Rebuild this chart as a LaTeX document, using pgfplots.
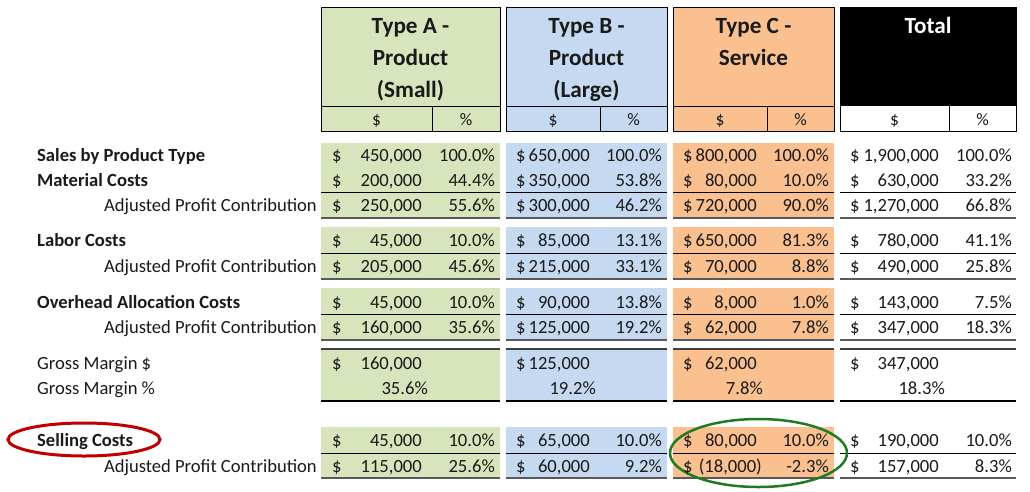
\documentclass[border=0pt]{standalone}
\usepackage{pgfplots}
\pgfplotsset{compat=1.18}
\usepackage{fontspec}
\setmainfont{Carlito}
\definecolor{cA}{HTML}{D8E4BC}
\definecolor{cB}{HTML}{C5D9F1}
\definecolor{cC}{HTML}{FAC090}
\definecolor{ered}{HTML}{C00000}
\definecolor{egreen}{HTML}{1E7B22}
\definecolor{tx}{HTML}{1A1A1A}
\newcommand\bodyf{\fontsize{18.6}{22}\selectfont}
\newcommand\headf{\fontsize{23.2}{28}\selectfont\bfseries}
\newcommand\txt[3]{\addplot[draw=none, mark=none, nodes near coords, point meta=explicit symbolic,
  every node near coord/.append style={anchor=#1, inner sep=0pt, font=#2, text=tx}]
  table[col sep=semicolon, row sep=\\, meta=t]{#3};}
\newcommand\blk[5]{\addplot[fill=#1, draw=none] coordinates {(#2,#4) (#3,#4) (#3,#5) (#2,#5)} -- cycle;}
\newcommand\hl[2]{%
  \addplot[#2] coordinates {(321,#1) (500,#1)};
  \addplot[#2] coordinates {(506,#1) (667,#1)};
  \addplot[#2] coordinates {(673,#1) (834,#1)};
  \addplot[#2] coordinates {(840,#1) (1016,#1)};}
\newcommand\allblk[2]{\blk{cA}{321}{500}{#1}{#2}\blk{cB}{506}{667}{#1}{#2}\blk{cC}{673}{834}{#1}{#2}}
\begin{document}
\begin{tikzpicture}
\begin{axis}[x=1pt, y=1pt, xmin=0, xmax=1030, ymin=0, ymax=491, y dir=reverse,
  hide axis, clip=false, enlargelimits=false, scale only axis]
\addplot[draw=none, mark=none] coordinates {(0,0) (1030,491)};
% header blocks
\blk{cA}{321}{500}{7}{131}
\blk{cB}{506}{667}{7}{131}
\blk{cC}{673}{834}{7}{131}
\blk{black}{840}{1016}{7}{106}
\addplot[black, line width=1pt] coordinates {(321,7) (500,7) (500,131) (321,131) (321,7)};
\addplot[black, line width=1pt] coordinates {(506,7) (667,7) (667,131) (506,131) (506,7)};
\addplot[black, line width=1pt] coordinates {(673,7) (834,7) (834,131) (673,131) (673,7)};
\addplot[black, line width=1pt] coordinates {(840,7) (1016,7) (1016,131) (840,131) (840,7)};
\addplot[black, line width=1pt] coordinates {(321,106) (500,106)};
\addplot[black, line width=1pt] coordinates {(506,106) (667,106)};
\addplot[black, line width=1pt] coordinates {(673,106) (834,106)};
\addplot[black, line width=1pt] coordinates {(432,106) (432,131)};
\addplot[black, line width=1pt] coordinates {(600,106) (600,131)};
\addplot[black, line width=1pt] coordinates {(767,106) (767,131)};
\addplot[black, line width=1pt] coordinates {(949,106) (949,131)};
% body fills
\allblk{143}{218}
\allblk{227}{279}
\allblk{288}{340}
\allblk{349}{401}
\allblk{427}{478}
% lines
\hl{192}{black, line width=1pt}
\hl{218}{black!65, line width=1.6pt}
\hl{253}{black, line width=1pt}
\hl{279}{black!65, line width=1.6pt}
\hl{314}{black, line width=1pt}
\hl{340}{black!65, line width=1.6pt}
\hl{349}{black!75, line width=1.4pt}
\hl{401}{black, line width=2.2pt}
\hl{453}{black, line width=1pt}
\hl{478}{black!65, line width=1.6pt}
% header text
\txt{base}{\headf}{x;y;t\\410.5;33;Type A -\\410.5;65;Product\\410.5;97;(Small)\\586.5;33;Type B -\\586.5;65;Product\\586.5;97;(Large)\\753.5;33;Type C -\\753.5;65;Service\\}
\addplot[draw=none, mark=none, nodes near coords, point meta=explicit symbolic,
  every node near coord/.append style={anchor=base, inner sep=0pt, font=\headf, text=white}]
  table[col sep=semicolon, row sep=\\, meta=t]{x;y;t\\928;33;Total\\};
\txt{base}{\fontsize{17.5}{20}\selectfont}{x;y;t\\376.5;125;\$\\466;125;\%\\553;125;\$\\633.5;125;\%\\720;125;\$\\800.5;125;\%\\894.5;125;\$\\982.5;125;\%\\}
% row labels
\txt{base west}{\bodyf\bfseries}{x;y;t\\37;161;Sales by Product Type\\37;186;Material Costs\\37;246.5;Labor Costs\\37;308;Overhead Allocation Costs\\37;446.5;Selling Costs\\}
\txt{base east}{\bodyf}{x;y;t\\317;211.5;Adjusted Profit Contribution\\317;272.5;Adjusted Profit Contribution\\317;333.5;Adjusted Profit Contribution\\317;472.5;Adjusted Profit Contribution\\}
\txt{base west}{\bodyf}{x;y;t\\37;369;Gross Margin \$\\37;394.5;Gross Margin \%\\}
% dollar signs
\txt{base west}{\bodyf}{x;y;t\\332;161;\$\\332;186;\$\\332;211.5;\$\\332;246.5;\$\\332;272.5;\$\\332;308;\$\\332;333.5;\$\\332;369;\$\\332;446.5;\$\\332;472.5;\$\\516;161;\$\\516;186;\$\\516;211.5;\$\\516;246.5;\$\\516;272.5;\$\\516;308;\$\\516;333.5;\$\\516;369;\$\\516;446.5;\$\\516;472.5;\$\\683;161;\$\\683;186;\$\\683;211.5;\$\\683;246.5;\$\\683;272.5;\$\\683;308;\$\\683;333.5;\$\\683;369;\$\\683;446.5;\$\\683;472.5;\$\\850;161;\$\\850;186;\$\\850;211.5;\$\\850;246.5;\$\\850;272.5;\$\\850;308;\$\\850;333.5;\$\\850;369;\$\\850;446.5;\$\\850;472.5;\$\\}
% numbers type A
\txt{base east}{\bodyf}{x;y;t\\422;161;450,000\\422;186;200,000\\422;211.5;250,000\\422;246.5;45,000\\422;272.5;205,000\\422;308;45,000\\422;333.5;160,000\\422;369;160,000\\422;446.5;45,000\\422;472.5;115,000\\}
\txt{base east}{\bodyf}{x;y;t\\495;161;100.0\%\\495;186;44.4\%\\495;211.5;55.6\%\\495;246.5;10.0\%\\495;272.5;45.6\%\\495;308;10.0\%\\495;333.5;35.6\%\\428;394.5;35.6\%\\495;446.5;10.0\%\\495;472.5;25.6\%\\}
% numbers type B
\txt{base east}{\bodyf}{x;y;t\\590;161;650,000\\590;186;350,000\\590;211.5;300,000\\590;246.5;85,000\\590;272.5;215,000\\590;308;90,000\\590;333.5;125,000\\590;369;125,000\\590;446.5;65,000\\590;472.5;60,000\\}
\txt{base east}{\bodyf}{x;y;t\\662;161;100.0\%\\662;186;53.8\%\\662;211.5;46.2\%\\662;246.5;13.1\%\\662;272.5;33.1\%\\662;308;13.8\%\\662;333.5;19.2\%\\596;394.5;19.2\%\\662;446.5;10.0\%\\662;472.5;9.2\%\\}
% numbers type C
\txt{base east}{\bodyf}{x;y;t\\757;161;800,000\\757;186;80,000\\757;211.5;720,000\\757;246.5;650,000\\757;272.5;70,000\\757;308;8,000\\757;333.5;62,000\\757;369;62,000\\757;446.5;80,000\\762;472.5;(18,000)\\}
\txt{base east}{\bodyf}{x;y;t\\829;161;100.0\%\\829;186;10.0\%\\829;211.5;90.0\%\\829;246.5;81.3\%\\829;272.5;8.8\%\\829;308;1.0\%\\829;333.5;7.8\%\\763;394.5;7.8\%\\829;446.5;10.0\%\\829;472.5;-2.3\%\\}
% numbers total
\txt{base east}{\bodyf}{x;y;t\\939;161;1,900,000\\939;186;630,000\\939;211.5;1,270,000\\939;246.5;780,000\\939;272.5;490,000\\939;308;143,000\\939;333.5;347,000\\939;369;347,000\\939;446.5;190,000\\939;472.5;157,000\\}
\txt{base east}{\bodyf}{x;y;t\\1012;161;100.0\%\\1012;186;33.2\%\\1012;211.5;66.8\%\\1012;246.5;41.1\%\\1012;272.5;25.8\%\\1012;308;7.5\%\\1012;333.5;18.3\%\\945;394.5;18.3\%\\1012;446.5;10.0\%\\1012;472.5;8.3\%\\}
% highlight ellipses
\draw[ered, line width=3pt] (axis cs:84,439.5) ellipse [x radius=76pt, y radius=16.5pt];
\draw[egreen, line width=2.5pt] (axis cs:758.5,453) ellipse [x radius=88.5pt, y radius=34pt];
\end{axis}
\end{tikzpicture}
\end{document}
